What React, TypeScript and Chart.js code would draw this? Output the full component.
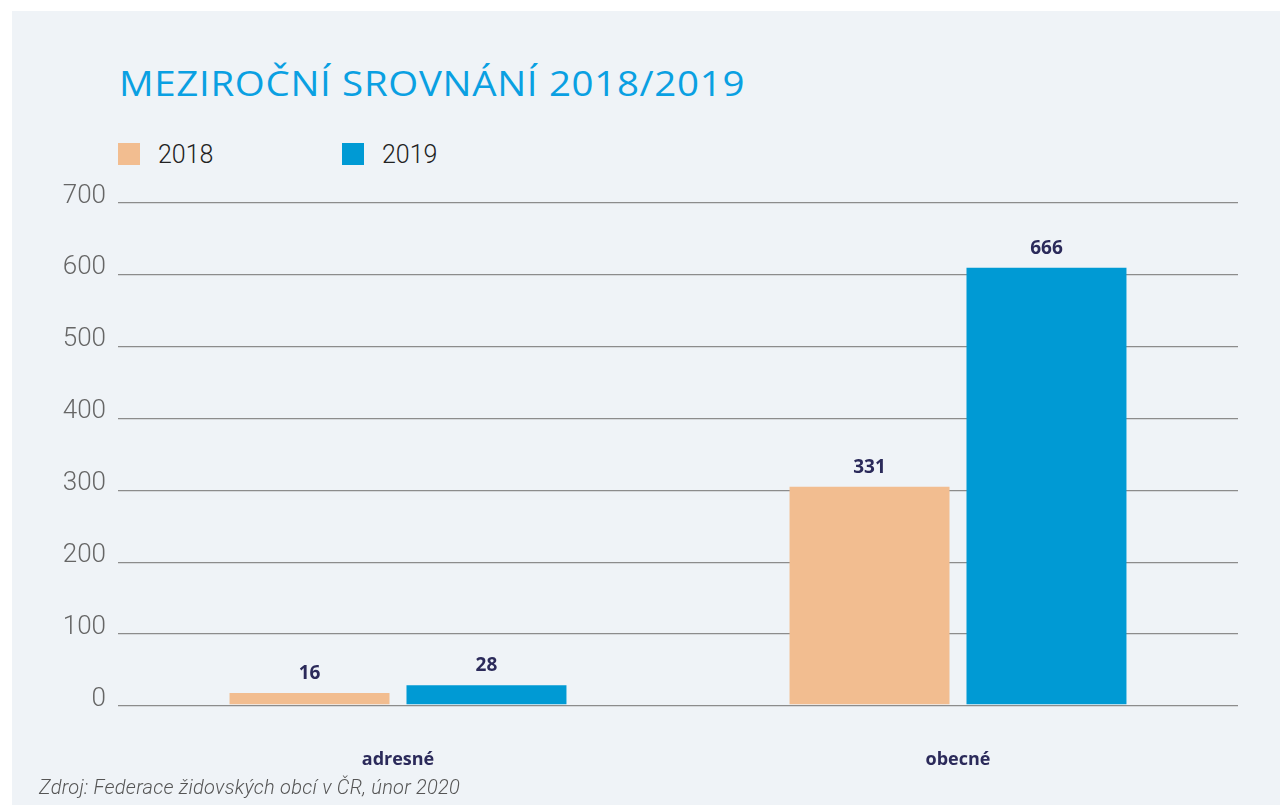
import React, { useEffect, useRef } from "react";
import { Chart, registerables } from "chart.js";

Chart.register(...registerables);

const categories = ["adresné", "obecné"];
const seriesNames = ["2018", "2019"];
// bar heights as drawn against the axis
const bars2018 = [18, 305];
const bars2019 = [29, 610];
// value labels printed above the bars
const labels2018 = ["16", "331"];
const labels2019 = ["28", "666"];
const yTicks = [0, 100, 200, 300, 400, 500, 600, 700];

const colors = ["#f2bd90", "#009ad4"];
const labelColor = "#2b2a5a";
const bg = "#eff3f7";

const valueLabels = {
  id: "valueLabels",
  afterDatasetsDraw(chart: any) {
    const ctx = chart.ctx;
    const texts = [labels2018, labels2019];
    ctx.save();
    ctx.font = "bold 19px 'Open Sans'";
    ctx.fillStyle = labelColor;
    ctx.textAlign = "center";
    ctx.textBaseline = "bottom";
    chart.data.datasets.forEach((_: any, di: number) => {
      const meta = chart.getDatasetMeta(di);
      meta.data.forEach((el: any, i: number) => {
        ctx.fillText(texts[di][i], el.x, el.y - 10);
      });
    });
    ctx.restore();
  },
};

export default function App() {
  const ref = useRef<HTMLCanvasElement>(null);
  useEffect(() => {
    if (!ref.current) return;
    const chart = new Chart(ref.current, {
      type: "bar",
      data: {
        labels: categories,
        datasets: [
          { label: seriesNames[0], data: bars2018, backgroundColor: colors[0], base: 2.5 } as any,
          { label: seriesNames[1], data: bars2019, backgroundColor: colors[1], base: 2.5 } as any,
        ],
      },
      options: {
        animation: false,
        responsive: false,
        maintainAspectRatio: false,
        layout: { padding: { left: 0, right: 42, top: 33, bottom: 0 } },
        datasets: { bar: { categoryPercentage: 0.632, barPercentage: 0.904 } } as any,
        plugins: {
          legend: { display: false },
          tooltip: { enabled: false },
          title: { display: false },
        },
        scales: {
          x: {
            grid: { display: false },
            border: { display: false },
            ticks: {
              padding: 35,
              color: labelColor,
              font: { family: "'Open Sans'", size: 18, weight: "bold" },
            },
            afterFit: (s: any) => {
              s.height = 84;
            },
          },
          y: {
            min: 0,
            max: 700,
            afterBuildTicks: (s: any) => {
              s.ticks = yTicks.map((v) => ({ value: v }));
            },
            grid: { color: "#8c8c8c", lineWidth: 1.3, drawTicks: false },
            border: { display: false },
            ticks: {
              padding: 12,
              labelOffset: -7,
              color: "#666666",
              font: { family: "Roboto", size: 26, weight: "300" },
            },
            afterFit: (s: any) => {
              s.width = 118;
            },
          },
        },
      },
      plugins: [valueLabels],
    });
    return () => chart.destroy();
  }, []);

  return (
    <div style={{ position: "absolute", left: 0, top: 0, width: 1280, height: 805, background: "#ffffff", overflow: "hidden" }}>
      <div style={{ position: "absolute", left: 12, top: 11, right: 0, bottom: 0, background: bg }} />
      <div
        style={{
          position: "absolute",
          left: 119,
          top: 60,
          fontFamily: "'Open Sans'",
          fontSize: 35,
          color: "#0aa0e2",
          letterSpacing: 0.6,
          lineHeight: "46px",
          whiteSpace: "nowrap",
          transform: "scaleX(1.1)",
          transformOrigin: "left center",
        }}
      >
        MEZIROČNÍ SROVNÁNÍ 2018/2019
      </div>
      {seriesNames.map((n, i) => (
        <div key={n} style={{ position: "absolute", left: 118 + i * 224, top: 143, display: "flex", alignItems: "center" }}>
          <div style={{ width: 22, height: 22, background: colors[i] }} />
          <div style={{ marginLeft: 18, fontFamily: "Roboto", fontWeight: 300, fontSize: 25, color: "#222", lineHeight: "22px", position: "relative", top: 1 }}>{n}</div>
        </div>
      ))}
      <canvas ref={ref} width={1280} height={620} style={{ position: "absolute", left: 0, top: 170, width: 1280, height: 620 }} />
      <div
        style={{
          position: "absolute",
          left: 39,
          top: 775,
          fontFamily: "Roboto",
          fontStyle: "italic",
          fontWeight: 300,
          fontSize: 20,
          letterSpacing: 0.25,
          color: "#555",
          whiteSpace: "nowrap",
        }}
      >
        Zdroj: Federace židovských obcí v ČR, únor 2020
      </div>
    </div>
  );
}
